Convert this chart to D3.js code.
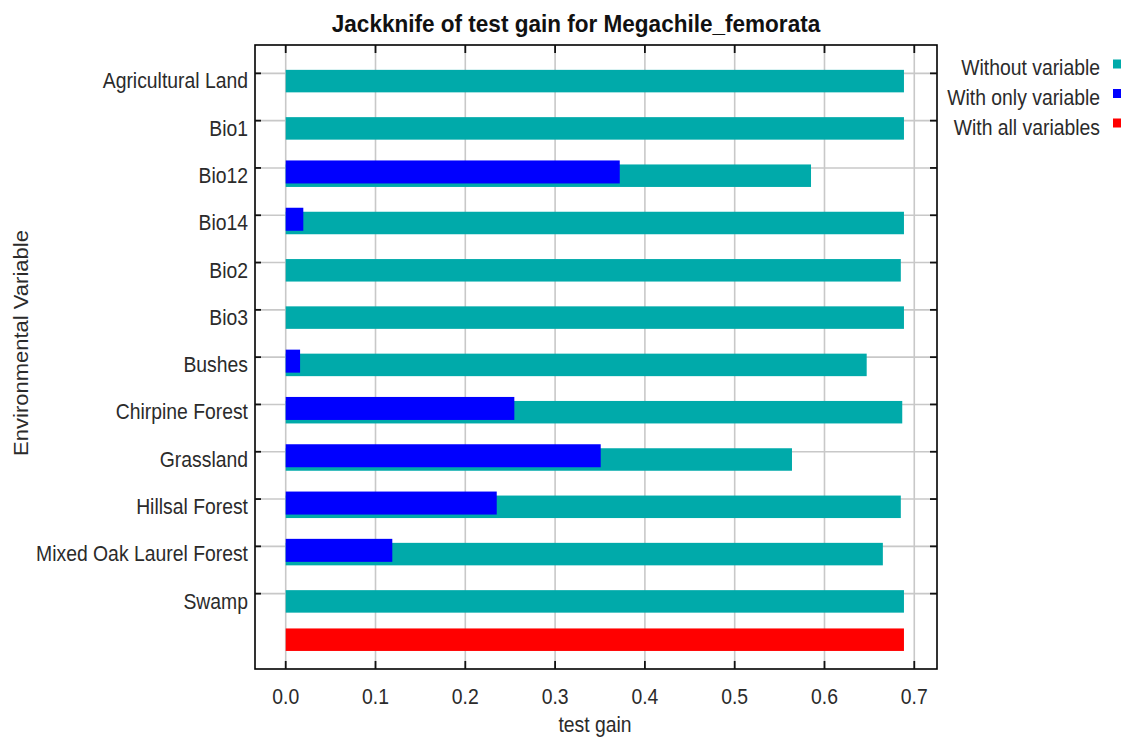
<!DOCTYPE html>
<html>
<head>
<meta charset="utf-8">
<script src="https://cdn.jsdelivr.net/npm/d3@7"></script>
<style>
  html, body { margin: 0; padding: 0; background: #fff; }
  svg { display: block; }
  text { font-family: "Liberation Sans", Arial, sans-serif; fill: #2b2b2b; }
</style>
</head>
<body>
<svg id="chart" width="1129" height="740"></svg>
<script>
// ---------------- data ----------------
const title = "Jackknife of test gain for Megachile_femorata";
const categories = ["Agricultural Land", "Bio1", "Bio12", "Bio14", "Bio2", "Bio3",
  "Bushes", "Chirpine Forest", "Grassland", "Hillsal Forest", "Mixed Oak Laurel Forest", "Swamp"];
const withoutVariable = [0.6885, 0.6885, 0.585, 0.6885, 0.685, 0.6885, 0.647, 0.6866, 0.5638, 0.685, 0.665, 0.6885];
const withOnlyVariable = [0, 0, 0.372, 0.0196, 0, 0, 0.016, 0.2546, 0.3508, 0.235, 0.1187, 0];
const withAllVariables = [0.6885];
const xTicks = [0, 0.1, 0.2, 0.3, 0.4, 0.5, 0.6, 0.7];
const legendLabels = ["Without variable", "With only variable", "With all variables"];
const seriesColors = ["#00aaaa", "#0000ff", "#ff0000"];

// ---------------- layout ----------------
const plot = { left: 255, right: 937, top: 45, bottom: 669 };
const FS = 22, HS = 0.88;           // font size, horizontal squeeze
const svg = d3.select("#chart");

const rows = categories.concat(["__all__"]);
const x = d3.scaleLinear().domain([-0.0342, 0.7253]).range([plot.left, plot.right]);
const y = d3.scaleBand().domain(rows).range([49.7, 664.6]).padding(0);
const yc = r => y(r) + y.bandwidth() / 2;

function sqText(g, str, px, py, anchor, size, weight, sx) {
  return g.append("text")
    .attr("transform", `translate(${px},${py}) scale(${sx},1)`)
    .attr("text-anchor", anchor)
    .style("font-size", size + "px")
    .style("font-weight", weight || "normal")
    .text(str);
}

// gridlines
const grid = svg.append("g");
grid.selectAll("line.v").data(xTicks).join("line")
  .attr("x1", d => x(d)).attr("x2", d => x(d))
  .attr("y1", plot.top).attr("y2", plot.bottom)
  .attr("stroke", "#c8c8c8").attr("stroke-width", 1.6);
grid.selectAll("line.h").data(categories).join("line")
  .attr("x1", plot.left).attr("x2", plot.right)
  .attr("y1", d => yc(d)).attr("y2", d => yc(d))
  .attr("stroke", "#c8c8c8").attr("stroke-width", 1.6);

// bars
const bars = svg.append("g");
bars.selectAll("rect.without").data(categories).join("rect")
  .attr("x", x(0)).attr("y", d => yc(d) - 3.5)
  .attr("width", (d, i) => x(withoutVariable[i]) - x(0))
  .attr("height", 22.5).attr("fill", seriesColors[0]);
bars.selectAll("rect.only").data(categories.filter((d, i) => withOnlyVariable[i] > 0)).join("rect")
  .attr("x", x(0)).attr("y", d => yc(d) - 7.5)
  .attr("width", d => x(withOnlyVariable[categories.indexOf(d)]) - x(0))
  .attr("height", 23).attr("fill", seriesColors[1]);
bars.selectAll("rect.all").data(withAllVariables).join("rect")
  .attr("x", x(0)).attr("y", yc("__all__") - 12.5)
  .attr("width", d => x(d) - x(0))
  .attr("height", 22.5).attr("fill", seriesColors[2]);

// frame
svg.append("rect")
  .attr("x", plot.left).attr("y", plot.top)
  .attr("width", plot.right - plot.left).attr("height", plot.bottom - plot.top)
  .attr("fill", "none").attr("stroke", "#000").attr("stroke-width", 1.6);

// ticks
const tk = svg.append("g").attr("stroke", "#111").attr("stroke-width", 1.8);
tk.selectAll("line.b").data(xTicks).join("line")
  .attr("x1", d => x(d)).attr("x2", d => x(d)).attr("y1", plot.bottom).attr("y2", plot.bottom - 8);
tk.selectAll("line.t").data(xTicks).join("line")
  .attr("x1", d => x(d)).attr("x2", d => x(d)).attr("y1", plot.top).attr("y2", plot.top + 8);
tk.selectAll("line.l").data(categories).join("line")
  .attr("x1", plot.left).attr("x2", plot.left + 6).attr("y1", d => yc(d)).attr("y2", d => yc(d));
tk.selectAll("line.r").data(categories).join("line")
  .attr("x1", plot.right).attr("x2", plot.right - 7).attr("y1", d => yc(d)).attr("y2", d => yc(d));

// tick labels
const fmt = d3.format(".1f");
const tl = svg.append("g");
xTicks.forEach(t => sqText(tl, fmt(t), x(t), 704, "middle", FS, null, HS));
categories.forEach(c => sqText(tl, c, 248, yc(c) + 15, "end", FS, null, HS));

// axis titles
sqText(svg, "test gain", 595, 732, "middle", FS, null, HS);
svg.append("text")
  .attr("transform", `translate(28,343) rotate(-90) scale(1,${HS})`)
  .attr("text-anchor", "middle")
  .style("font-size", FS + "px")
  .text("Environmental Variable");

// title
sqText(svg, title, 576, 32, "middle", 23, "bold", 0.98).style("fill", "#111");

// legend
const lg = svg.append("g");
legendLabels.forEach((l, i) => {
  sqText(lg, l, 1100, 75 + i * 30, "end", FS, null, HS);
  lg.append("rect").attr("x", 1113).attr("y", 59.5 + i * 29.5)
    .attr("width", 8).attr("height", 9).attr("fill", seriesColors[i]);
});
</script>
</body>
</html>
